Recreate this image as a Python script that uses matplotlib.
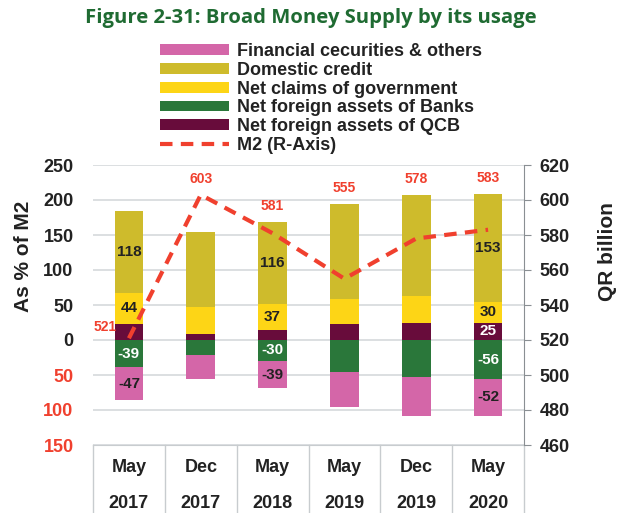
import matplotlib
matplotlib.use("Agg")
import matplotlib.pyplot as plt
import numpy as np
from matplotlib.transforms import blended_transform_factory

# ---- data ----
months = ["May", "Dec", "May", "May", "Dec", "May"]
years = ["2017", "2017", "2018", "2019", "2019", "2020"]
qcb = [23, 8, 15, 23, 24, 25]            # Net foreign assets of QCB
gov = [44, 39, 37, 35, 39, 30]           # Net claims of government
dom = [118, 108, 116, 136, 144, 153]     # Domestic credit
banks = [-39, -21, -30, -46, -53, -56]   # Net foreign assets of Banks
fin = [-47, -35, -39, -50, -55, -52]     # Financial securities & others
m2 = [521, 603, 581, 555, 578, 583]      # M2 (R-axis)
show_lbl = [True, False, True, False, False, True]
show_qcb_lbl = [False, False, False, False, False, True]
left_ticks = [-150, -100, -50, 0, 50, 100, 150, 200, 250]
right_ticks = [460, 480, 500, 520, 540, 560, 580, 600, 620]

c_fin = "#D466A8"
c_dom = "#CEBB2C"
c_gov = "#FDD516"
c_banks = "#2A773A"
c_qcb = "#680C3B"
c_m2 = "#F0402E"
c_title = "#1F6B32"

plt.rcParams['font.family'] = ['Liberation Sans', 'DejaVu Sans']
plt.rcParams['font.weight'] = 'bold'

fig = plt.figure(figsize=(6.3, 5.13), dpi=100)
ax = fig.add_axes([93/630, 1-445/513, (524-93)/630, (445-165)/513])
ax2 = ax.twinx()

x = np.arange(len(months))
w = 0.4
qcb_a = np.array(qcb); gov_a = np.array(gov); dom_a = np.array(dom)
banks_a = np.array(banks); fin_a = np.array(fin)

b_qcb = ax.bar(x, qcb_a, w, color=c_qcb, zorder=3)
b_gov = ax.bar(x, gov_a, w, bottom=qcb_a, color=c_gov, zorder=3)
b_dom = ax.bar(x, dom_a, w, bottom=qcb_a+gov_a, color=c_dom, zorder=3)
b_banks = ax.bar(x, banks_a, w, color=c_banks, zorder=3)
b_fin = ax.bar(x, fin_a, w, bottom=banks_a, color=c_fin, zorder=3)

fs_lbl = 11
for i in x:
    if show_lbl[i]:
        ax.text(i, qcb_a[i]+gov_a[i]+dom_a[i]/2, str(dom_a[i]), ha='center', va='center', fontsize=fs_lbl, color='#222222', fontweight='bold', zorder=4)
        ax.text(i, qcb_a[i]+gov_a[i]/2, str(gov_a[i]), ha='center', va='center', fontsize=fs_lbl, color='#222222', fontweight='bold', zorder=4)
        ax.text(i, banks_a[i]/2, str(banks_a[i]), ha='center', va='center', fontsize=fs_lbl, color='white', fontweight='bold', zorder=4)
        ax.text(i, banks_a[i]+fin_a[i]/2, str(fin_a[i]), ha='center', va='center', fontsize=fs_lbl, color='#222222', fontweight='bold', zorder=4)
    if show_qcb_lbl[i]:
        ax.text(i, qcb_a[i]/2, str(qcb_a[i]), ha='center', va='center', fontsize=fs_lbl, color='white', fontweight='bold', zorder=4)

ax.set_ylim(-150, 250)
ax.set_xlim(-0.5, len(months)-0.5)
ax.set_yticks(left_ticks)
ax.set_yticklabels([str(abs(t)) for t in left_ticks])
for t, lab in zip(left_ticks, ax.get_yticklabels()):
    lab.set_color(c_m2 if t < 0 else '#222222')
ax.tick_params(axis='y', length=0, labelsize=13, pad=14)
ax.set_xticks(x)
ax.set_xticklabels([])
ax.tick_params(axis='x', length=0)
ax.grid(axis='y', color='#D5D9DC', linewidth=1.2, zorder=0)
ax.set_axisbelow(True)
for s in ['left', 'top', 'right']:
    ax.spines[s].set_visible(False)
ax.spines['bottom'].set_color('#C8CCCF')
ax.set_ylabel("As % of M2", fontsize=15, fontweight='bold', color='#222222')
ax.yaxis.set_label_coords(-0.139, 0.675)

# category table below the axis
trans = blended_transform_factory(ax.transData, ax.transAxes)
for b in np.arange(-0.5, len(months), 1.0):
    ax.plot([b, b], [0, -0.26], transform=trans, color='#C8CCCF', linewidth=1, clip_on=False)
for i in x:
    ax.text(i, -0.08, months[i], transform=trans, ha='center', va='center', fontsize=13, fontweight='bold', color='#222222')
    ax.text(i, -0.21, years[i], transform=trans, ha='center', va='center', fontsize=13, fontweight='bold', color='#222222')

# line
line, = ax2.plot(x, m2, color=c_m2, linewidth=3, linestyle=(0, (3, 2)), zorder=5)
ax2.set_ylim(460, 620)
ax2.set_yticks(right_ticks)
ax2.tick_params(axis='y', labelsize=13, colors='#222222', length=5, color='#8A8F93', direction='out', pad=6)
for s in ['left', 'top', 'bottom']:
    ax2.spines[s].set_visible(False)
ax2.spines['right'].set_color('#8A8F93')
ax2.set_ylabel("QR billion", fontsize=15, fontweight='bold', color='#222222')
ax2.yaxis.set_label_coords(1.172, 0.69)

# M2 labels
fig.canvas.draw()
to_left = ax.transData.inverted()
for i in x:
    disp = ax2.transData.transform((i, m2[i]))
    line_left = to_left.transform(disp)[1]
    top = qcb_a[i] + gov_a[i] + dom_a[i]
    if i == 0:
        ax2.annotate(str(m2[i]), (i, m2[i]), xytext=(-9, 8), textcoords='offset points',
                     ha='right', va='center', fontsize=10, color=c_m2, fontweight='bold', zorder=6)
    else:
        y = max(top, line_left) + 23
        ax.text(i, y, str(m2[i]), ha='center', va='center', fontsize=10, color=c_m2, fontweight='bold', zorder=6)

# legend
handles = [b_fin, b_dom, b_gov, b_banks, b_qcb, line]
labels = ["Financial cecurities & others", "Domestic credit", "Net claims of government",
          "Net foreign assets of Banks", "Net foreign assets of QCB", "M2 (R-Axis)"]
leg = fig.legend(handles, labels, loc='upper left', bbox_to_anchor=(160/630, 1-43/513),
                 frameon=False, fontsize=13, handlelength=3.8, handleheight=0.55,
                 labelspacing=0.1, handletextpad=0.45, borderaxespad=0, borderpad=0)
for t in leg.get_texts():
    t.set_color('#222222')

fig.text(0.493, 1-18/513, "Figure 2-31: Broad Money Supply by its usage", ha='center', va='center',
         fontsize=14.6, fontweight='bold', color=c_title, family=['Open Sans', 'DejaVu Sans'])

fig.savefig("out.png", dpi=100)
